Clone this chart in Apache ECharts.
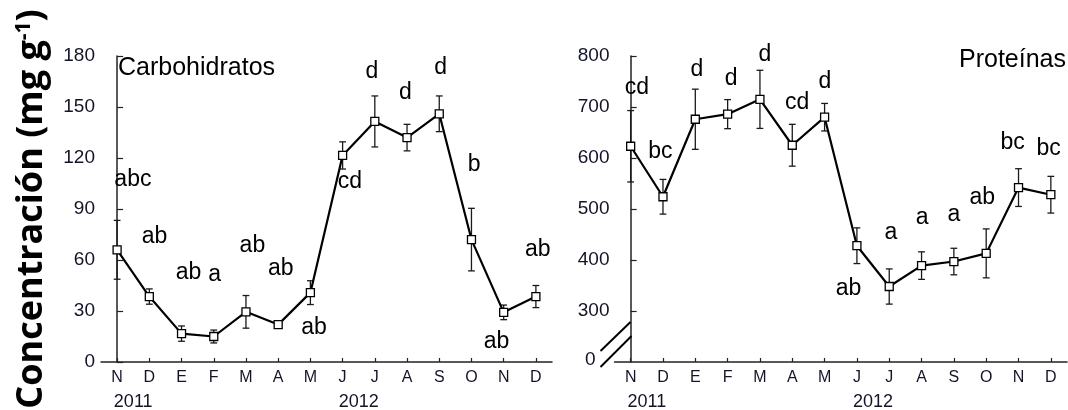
<!DOCTYPE html>
<html>
<head>
<meta charset="utf-8">
<script src="https://cdn.jsdelivr.net/npm/echarts@6/dist/echarts.min.js"></script>
<style>
html,body{margin:0;padding:0;background:#fff;}
#c{width:1068px;height:410px;}
</style>
</head>
<body>
<div id="c"></div>
<script>
// ---------- data ----------
const months = ['N','D','E','F','M','A','M','J','J','A','S','O','N','D'];
const monthPos = [0,1,2,3,4,5,6,7,8,9,10,11,12,13];
const yearLabels = ['2011','2012'];
const yearPos = [0.5, 7.5];

const carbMean = [66, 38.5, 16.7, 15, 29.5, 22, 40.8, 121.5, 141.5, 132, 146, 72, 29.2, 38.5];
const carbErr  = [17.3, 4.5, 4.5, 3.8, 9.6, 1, 7, 8, 15, 7.8, 10.5, 18.4, 4.3, 6.5];
const carbSig  = ['abc','ab','ab','a','ab','ab','ab','cd','d','d','d','b','ab','ab'];
const carbSigX = [0.49, 1.16, 2.22, 3.03, 4.2, 5.08, 6.11, 7.23, 7.91, 8.95, 10.04, 11.08, 11.78, 13.06];
const carbSigY = [107.5, 73.9, 52.6, 51.4, 68.5, 54.9, 20.2, 105.9, 170.6, 158.2, 172.9, 116.1, 12, 66.3];
const carbTicks = [0, 30, 60, 90, 120, 150, 180];

const protMean = [623, 524, 676, 686, 715, 625, 680, 428, 348, 389, 397, 413, 542, 528];
const protErr  = [70, 34, 59, 28.5, 57, 41, 27, 35, 34.5, 27, 26, 48, 37, 36];
const protSig  = ['cd','bc','d','d','d','cd','d','ab','a','a','a','ab','bc','bc'];
const protSigX = [0.19, 0.92, 2.05, 3.11, 4.15, 5.15, 6.01, 6.74, 8.05, 9.02, 10.0, 10.88, 11.82, 12.93];
const protSigY = [737, 612.8, 773.9, 755.6, 802.8, 709, 749, 344, 454, 482.5, 489, 521.8, 631, 618.7];
// broken axis: the bottom of the drawn scale (200) is labelled "0"
const protTickValues = [200, 300, 400, 500, 600, 700, 800];
const protTickLabels = ['0', '300', '400', '500', '600', '700', '800'];

// ---------- chart ----------
const FONT = '"Liberation Sans", Arial, sans-serif';
const TXT = '#141428';
const AX = '#222';

const chart = echarts.init(document.getElementById('c'), null, {renderer: 'canvas'});

function monthAxis(grid) {
  return {
    type: 'value', gridIndex: grid, min: -0.5, max: 13.5, position: 'bottom',
    axisLine: {show: true, onZero: false, lineStyle: {color: AX, width: 1.5}},
    axisTick: {show: true, inside: true, length: 4, customValues: monthPos, lineStyle: {color: AX, width: 1.2}},
    axisLabel: {show: true, customValues: monthPos, margin: 8, color: TXT, fontSize: 16, fontFamily: FONT,
      formatter: v => months[Math.round(v)]},
    splitLine: {show: false}
  };
}
function yearAxis(grid) {
  return {
    type: 'value', gridIndex: grid, min: -0.5, max: 13.5, position: 'bottom',
    axisLine: {show: false}, axisTick: {show: false}, splitLine: {show: false},
    axisLabel: {show: true, customValues: yearPos, margin: 31, color: TXT, fontSize: 18, fontFamily: FONT,
      formatter: v => yearLabels[yearPos.indexOf(v)]}
  };
}

function errRender(params, api) {
  const x = api.value(0), y = api.value(1), e = api.value(2);
  const t = api.coord([x, y + e]);
  const b = api.coord([x, y - e]);
  const w = 3.4;
  const st = {stroke: '#1a1a1a', lineWidth: 1.3};
  return {type: 'group', children: [
    {type: 'line', shape: {x1: t[0], y1: t[1], x2: b[0], y2: b[1]}, style: st},
    {type: 'line', shape: {x1: t[0] - w, y1: t[1], x2: t[0] + w, y2: t[1]}, style: st},
    {type: 'line', shape: {x1: b[0] - w, y1: b[1], x2: b[0] + w, y2: b[1]}, style: st}
  ]};
}

function panelSeries(xi, yi, mean, err, sig, sx, sy) {
  return [
    {
      type: 'custom', xAxisIndex: xi, yAxisIndex: yi, renderItem: errRender, z: 2, silent: true,
      encode: {x: 0, y: 1},
      data: mean.map((m, i) => [monthPos[i], m, err[i]])
    },
    {
      type: 'line', xAxisIndex: xi, yAxisIndex: yi, z: 3, silent: true,
      symbol: 'rect', symbolSize: 8,
      itemStyle: {color: '#fff', borderColor: '#000', borderWidth: 1.3},
      lineStyle: {color: '#000', width: 2.2},
      emphasis: {disabled: true},
      data: mean.map((m, i) => [monthPos[i], m])
    },
    {
      type: 'scatter', xAxisIndex: xi, yAxisIndex: yi, z: 4, silent: true, clip: false,
      symbol: 'rect', symbolSize: 1, itemStyle: {color: 'rgba(0,0,0,0)', opacity: 1},
      emphasis: {disabled: true},
      label: {show: true, position: 'inside', color: '#000', opacity: 1, fontSize: 23, fontFamily: FONT,
        textBorderWidth: 0, formatter: p => sig[p.dataIndex]},
      data: sx.map((x, i) => [x, sy[i]])
    }
  ];
}

const titleFont = {fontSize: 25, fontWeight: 'normal', color: '#000', fontFamily: FONT};
const option = {
  animation: false,
  backgroundColor: '#fff',
  textStyle: {fontFamily: FONT},
  title: [
    {text: 'Carbohidratos', left: 118, top: 56, padding: 0, textStyle: titleFont},
    {text: 'Proteínas', right: 2, top: 48, padding: 0, textStyle: titleFont}
  ],
  grid: [
    {left: 101, top: 56, width: 451, height: 306, outerBoundsMode: 'none'},
    {left: 614.5, top: 56, width: 452.5, height: 306, outerBoundsMode: 'none'}
  ],
  xAxis: [monthAxis(0), yearAxis(0), monthAxis(1), yearAxis(1)],
  yAxis: [
    {
      type: 'value', gridIndex: 0, min: 0, max: 180, interval: 30,
      axisLine: {show: true, lineStyle: {color: AX, width: 1.5}},
      axisTick: {show: true, inside: true, length: 6, customValues: carbTicks, lineStyle: {color: AX, width: 1.2}},
      axisLabel: {customValues: carbTicks, margin: 6, color: TXT, fontSize: 19, fontFamily: FONT},
      splitLine: {show: false}
    },
    {
      type: 'value', gridIndex: 1, min: 200, max: 800, interval: 100,
      axisLine: {show: true, lineStyle: {color: AX, width: 1.5}},
      axisTick: {show: true, inside: true, length: 6, customValues: protTickValues.slice(1), lineStyle: {color: AX, width: 1.2}},
      axisLabel: {customValues: protTickValues, margin: 5, color: TXT, fontSize: 19, fontFamily: FONT,
        formatter: v => {
          const k = protTickValues.indexOf(v);
          return k === 0 ? '{z|' + protTickLabels[k] + '}' : protTickLabels[k];
        },
        rich: {z: {fontSize: 19, fontFamily: FONT, color: TXT, padding: [0, 14, 4, 0]}}
      },
      splitLine: {show: false}
    }
  ],
  series: [
    ...panelSeries(0, 0, carbMean, carbErr, carbSig, carbSigX, carbSigY),
    ...panelSeries(2, 1, protMean, protErr, protSig, protSigX, protSigY)
  ],
  graphic: [
    {
      type: 'text', x: 32, y: 209, rotation: Math.PI / 2, z: 100, silent: true,
      style: {
        text: '{a|Concentración (mg g}{s|-1}{a|)}',
        align: 'center', verticalAlign: 'middle',
        rich: {
          a: {fontSize: 36, fontWeight: 'bold', fontFamily: '"Open Sans", "Noto Sans", sans-serif', fill: '#000', color: '#000'},
          s: {fontSize: 21, fontWeight: 'bold', fontFamily: '"Open Sans", "Noto Sans", sans-serif', fill: '#000', color: '#000', verticalAlign: 'top'}
        }
      }
    }
  ]
};
chart.setOption(option);

// axis-break decoration on the protein panel, anchored on the axis origin
const o = chart.convertToPixel({xAxisIndex: 2, yAxisIndex: 1}, [-0.5, 200]);
chart.setOption({graphic: [
  option.graphic[0],
  {type: 'rect', z: 100, silent: true, shape: {x: o[0] - 3, y: o[1] - 28, width: 6, height: 19}, style: {fill: '#fff'}},
  {type: 'line', z: 101, silent: true, shape: {x1: o[0] - 14, y1: o[1] - 11, x2: o[0] + 16, y2: o[1] - 40}, style: {stroke: '#000', lineWidth: 2}},
  {type: 'line', z: 101, silent: true, shape: {x1: o[0] - 14, y1: o[1] + 5, x2: o[0] + 17, y2: o[1] - 26}, style: {stroke: '#000', lineWidth: 2}}
]});
</script>
</body>
</html>
